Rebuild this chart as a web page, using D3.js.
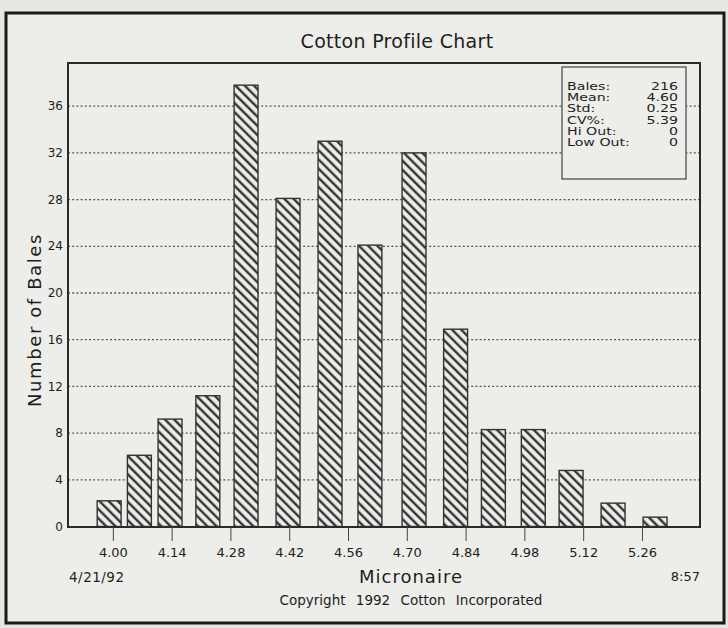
<!DOCTYPE html>
<html>
<head>
<meta charset="utf-8">
<script src="https://cdn.jsdelivr.net/npm/d3@7/dist/d3.min.js"></script>
<style>
  html, body { margin: 0; padding: 0; background: #e6e6e3; }
  svg text { font-family: "DejaVu Sans", sans-serif; fill: #1e1e1e; }
</style>
</head>
<body>
<div id="grafico"></div>
<script>
// Bar centres (micronaire) and number of bales
const binCenters = [3.99, 4.062, 4.135, 4.225, 4.316, 4.416, 4.516, 4.611, 4.716, 4.815, 4.905, 5.0, 5.09, 5.19, 5.29];
const bales = [2.2, 6.1, 9.2, 11.2, 37.8, 28.1, 33.0, 24.1, 32.0, 16.9, 8.3, 8.3, 4.8, 2.0, 0.8];
const xTicks = [4.00, 4.14, 4.28, 4.42, 4.56, 4.70, 4.84, 4.98, 5.12, 5.26];
const yTicks = [0, 4, 8, 12, 16, 20, 24, 28, 32, 36];
const statLabels = ["Bales:", "Mean:", "Std:", "CV%:", "Hi Out:", "Low Out:"];
const statValues = ["216", "4.60", "0.25", "5.39", "0", "0"];

const width = 728, height = 628;
const plot = { left: 68, right: 700, top: 63, bottom: 527 };

const svg = d3.select("#grafico")
  .append("svg")
  .attr("width", width)
  .attr("height", height);

// Paper background and the outer frame
svg.append("rect")
  .attr("width", width)
  .attr("height", height)
  .style("fill", "#e6e6e3");
svg.append("rect")
  .attr("x", 6).attr("y", 13)
  .attr("width", 718).attr("height", 610)
  .style("fill", "#ededea")
  .style("stroke", "#1a1a1a")
  .style("stroke-width", 3);

// Hatch pattern for the bars
const defs = svg.append("defs");
const pattern = defs.append("pattern")
  .attr("id", "hatch")
  .attr("patternUnits", "userSpaceOnUse")
  .attr("width", 6.5)
  .attr("height", 6.5)
  .attr("patternTransform", "rotate(-45)");
pattern.append("line")
  .attr("x1", 2).attr("x2", 2)
  .attr("y1", 0).attr("y2", 6.5)
  .style("stroke", "#333")
  .style("stroke-width", 2.4);

// Scales
const x = d3.scaleLinear().domain([3.892, 5.397]).range([plot.left, plot.right]);
const y = d3.scaleLinear().domain([0, 39.7]).range([526.5, plot.top]);
const binWidth = 0.057;

// Title
svg.append("text")
  .attr("x", 397).attr("y", 48)
  .attr("text-anchor", "middle")
  .style("font-size", "19px")
  .style("letter-spacing", "0.3px")
  .text("Cotton Profile Chart");

// Dotted gridlines
svg.append("g")
  .selectAll("line")
  .data(yTicks.filter(d => d > 0))
  .enter()
  .append("line")
  .attr("x1", plot.left).attr("x2", plot.right)
  .attr("y1", d => y(d)).attr("y2", d => y(d))
  .style("stroke", "#555")
  .style("stroke-width", 1.3)
  .style("stroke-dasharray", "2,2.2");

// Bars: background fill, hatch, outline
const bars = svg.append("g")
  .selectAll("g")
  .data(binCenters.map((c, i) => ({ c: c, v: bales[i] })))
  .enter()
  .append("g");
bars.append("rect")
  .attr("x", d => x(d.c - binWidth / 2))
  .attr("y", d => y(d.v))
  .attr("width", d => x(d.c + binWidth / 2) - x(d.c - binWidth / 2))
  .attr("height", d => y(0) - y(d.v))
  .style("fill", "#ededea");
bars.append("rect")
  .attr("x", d => x(d.c - binWidth / 2))
  .attr("y", d => y(d.v))
  .attr("width", d => x(d.c + binWidth / 2) - x(d.c - binWidth / 2))
  .attr("height", d => y(0) - y(d.v))
  .style("fill", "url(#hatch)")
  .style("stroke", "#333")
  .style("stroke-width", 1.4);

// Plot frame
svg.append("rect")
  .attr("x", plot.left).attr("y", plot.top)
  .attr("width", plot.right - plot.left)
  .attr("height", plot.bottom - plot.top)
  .style("fill", "none")
  .style("stroke", "#2a2a2a")
  .style("stroke-width", 2);

// Y axis labels (no tick marks)
svg.append("g")
  .selectAll("text")
  .data(yTicks)
  .enter()
  .append("text")
  .attr("x", 63)
  .attr("y", d => y(d))
  .attr("dy", "0.35em")
  .attr("text-anchor", "end")
  .style("font-size", "12px")
  .text(d => d);

svg.append("text")
  .attr("transform", "translate(41,320) rotate(-90)")
  .attr("text-anchor", "middle")
  .style("font-size", "18px")
  .style("letter-spacing", "1.6px")
  .text("Number of Bales");

// X axis ticks and labels
const xAxis = svg.append("g")
  .selectAll("g")
  .data(xTicks)
  .enter()
  .append("g")
  .attr("transform", d => "translate(" + x(d) + "," + plot.bottom + ")");
xAxis.append("line")
  .attr("y1", 0).attr("y2", 14)
  .style("stroke", "#444")
  .style("stroke-width", 1);
xAxis.append("text")
  .attr("y", 30)
  .attr("text-anchor", "middle")
  .style("font-size", "13px")
  .text(d => d.toFixed(2));

svg.append("text")
  .attr("x", 411).attr("y", 583)
  .attr("text-anchor", "middle")
  .style("font-size", "18px")
  .style("letter-spacing", "1px")
  .text("Micronaire");
svg.append("text")
  .attr("x", 69).attr("y", 582)
  .style("font-size", "13.5px")
  .style("letter-spacing", "0.5px")
  .text("4/21/92");
svg.append("text")
  .attr("x", 700).attr("y", 581)
  .attr("text-anchor", "end")
  .style("font-size", "13px")
  .text("8:57");
svg.append("text")
  .attr("x", 411).attr("y", 605)
  .attr("text-anchor", "middle")
  .style("font-size", "13.5px")
  .style("word-spacing", "6px")
  .text("Copyright 1992 Cotton Incorporated");

// Statistics box (text stretched sideways, like the wide original lettering)
svg.append("rect")
  .attr("x", 562).attr("y", 67)
  .attr("width", 124).attr("height", 112)
  .style("fill", "#ededea")
  .style("stroke", "#444")
  .style("stroke-width", 1.2);
const stats = svg.append("g")
  .selectAll("g")
  .data(statLabels)
  .enter()
  .append("g")
  .attr("transform", (d, i) => "translate(0," + (90 + i * 11.2) + ")");
stats.append("text")
  .attr("transform", "translate(567,0) scale(1.35,1)")
  .style("font-size", "10.5px")
  .text(d => d);
stats.append("text")
  .attr("transform", "translate(678,0) scale(1.35,1)")
  .attr("text-anchor", "end")
  .style("font-size", "10.5px")
  .text((d, i) => statValues[i]);
</script>
</body>
</html>
